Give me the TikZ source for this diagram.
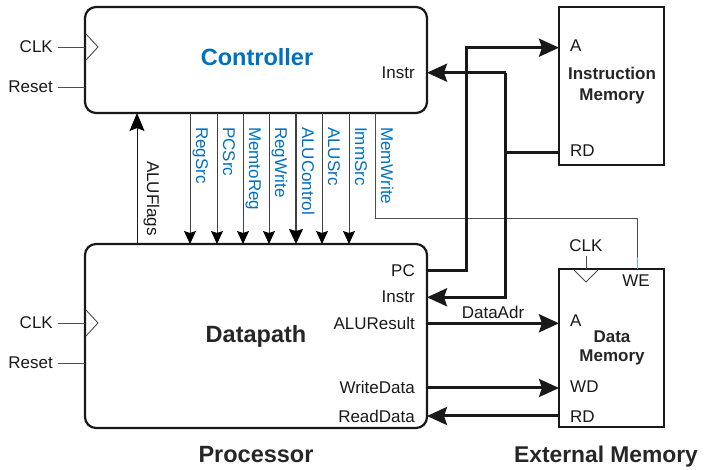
\documentclass[tikz,border=0pt]{standalone}
\usepackage{fontspec}
\setmainfont{Liberation Sans}
\usetikzlibrary{arrows.meta}
\definecolor{ctrlblue}{RGB}{0,112,192}
\definecolor{weblue}{RGB}{100,180,230}
\begin{document}
\begin{tikzpicture}[x=1pt,y=-1pt,
  lbl/.style={font=\fontsize{17}{19}\selectfont, inner sep=0pt, text=black!90},
  blbl/.style={font=\fontsize{17}{19}\selectfont\bfseries, inner sep=0pt, text=black!85},
  title/.style={font=\fontsize{23.5}{26}\selectfont\bfseries, inner sep=0pt},
  sig/.style={font=\fontsize{17}{19}\selectfont, inner sep=0pt, text=ctrlblue, rotate=-90, anchor=base west},
  unit/.style={draw=black!90, line width=2.2pt, rounded corners=11pt},
  mem/.style={draw=black!90, line width=2.2pt},
  bus/.style={draw=black!90, line width=3pt},
  bigarrow/.style={-{Stealth[length=20pt,width=18pt,inset=3pt,color=black!90]}},
  ctl/.style={draw=black!75, line width=0.9pt, -{Stealth[length=13pt,width=12pt,inset=2pt,color=black]}},
  thin/.style={draw=black!70, line width=0.9pt},
  clkmark/.style={draw=black!70, line width=0.9pt}]
\useasboundingbox (0,0) rectangle (710,470);

% blocks
\draw[unit] (85,7) rectangle (427,113);
\draw[unit] (85,244) rectangle (427,428);
\draw[mem] (559,7) rectangle (664,165);
\draw[mem] (559,269) rectangle (664,427);

% titles
\node[title, text=ctrlblue, anchor=base] (ctrl) at (257,66) {Controller};
\node[title, text=black!85, anchor=base] (dp) at (256,343) {Datapath};
\node[title, text=black!85, anchor=base] (proc) at (256,462) {Processor};
\node[title, text=black!85, anchor=base, font=\fontsize{22.8}{26}\selectfont\bfseries] (ext) at (606,462) {External Memory};
\node[blbl, anchor=base] (im1) at (612,80) {Instruction};
\node[blbl, anchor=base] (im2) at (612,101) {Memory};
\node[blbl, anchor=base] (dm1) at (612,343) {Data};
\node[blbl, anchor=base] (dm2) at (612,362) {Memory};

% left inputs
\node[lbl, anchor=base east] (clk1) at (53,53) {CLK};
\node[lbl, anchor=base east] (rst1) at (53,93) {Reset};
\node[lbl, anchor=base east] (clk2) at (53,329) {CLK};
\node[lbl, anchor=base east] (rst2) at (53,369) {Reset};
\coordinate (c1) at (85,47); \coordinate (r1) at (85,87);
\coordinate (c2) at (85,323); \coordinate (r2) at (85,363);
\draw[thin] (clk1.base east) ++(5,-6) -- (c1);
\draw[thin] (rst1.base east) ++(5,-6) -- (r1);
\draw[thin] (clk2.base east) ++(5,-6) -- (c2);
\draw[thin] (rst2.base east) ++(5,-6) -- (r2);
\draw[clkmark] (86,34) -- (98,47) -- (86,60);
\draw[clkmark] (86,310) -- (98,323) -- (86,336);

% port labels
\node[lbl, anchor=base east] (cinstr) at (415,79) {Instr};
\node[lbl, anchor=base east] (pc) at (415,277) {PC};
\node[lbl, anchor=base east] (dinstr) at (415,303) {Instr};
\node[lbl, anchor=base east] (alur) at (415,329.5) {ALUResult};
\node[lbl, anchor=base east] (wd) at (415,394) {WriteData};
\node[lbl, anchor=base east] (rd) at (415,422) {ReadData};
\node[lbl, anchor=base west] (ia) at (570,52) {A};
\node[lbl, anchor=base west] (ird) at (570,157) {RD};
\node[lbl, anchor=base west] (da) at (570,327) {A};
\node[lbl, anchor=base west] (dwd) at (570,393) {WD};
\node[lbl, anchor=base west] (drd) at (570,422) {RD};
\node[lbl, anchor=base] (we) at (636,287) {WE};
\node[lbl, anchor=base] (dclk) at (586,252) {CLK};
\node[lbl, anchor=base] (dadr) at (493,319) {DataAdr};

% data memory clock
\draw[clkmark] (dclk.base) ++(0,4) -- (586,269);
\draw[clkmark] (574,270) -- (586,282) -- (598,270);

% control signals
\foreach \x/\name in {190/RegSrc,217/PCSrc,243/MemtoReg,269/RegWrite,322/ALUSrc,349/ImmSrc}{
  \draw[ctl] (\x,113) -- (\x,244);
  \node[sig] at (\x+6,127) {\name};
}
\draw[ctl, line width=1.3pt, -{Stealth[length=15pt,width=14pt,inset=2pt,color=black]}] (296,113) -- (296,244);
\node[sig] (aluc) at (302,127) {ALUControl};
\node[sig] (memw) at (381,127) {MemWrite};
\draw[thin] (375,113) -- (375,218.3) -- (637.7,218.3) -- (637.7,257);
\draw[draw=weblue, line width=0.9pt] (637.7,257) -- (637.7,269);

% ALUFlags
\draw[draw=black!90, line width=1pt, -{Stealth[length=18pt,width=15pt,inset=3pt,color=black]}] (137,244) -- (137,113);
\node[lbl, rotate=-90, anchor=base west] (aluf) at (147,161) {ALUFlags};

% buses
\draw[bus, bigarrow] (427,271) -- (466.7,271) -- (466.7,47.7) -- (559,47.7);
\draw[bus] (559,152.3) -- (505.7,152.3);
\draw[bus, bigarrow] (505.7,72.7) -- (427,72.7);
\draw[bus, bigarrow] (505.7,72.7) -- (505.7,297.3) -- (427,297.3);
\draw[bus, bigarrow] (427,323.3) -- (559,323.3);
\draw[bus, bigarrow] (427,388) -- (559,388);
\draw[bus, bigarrow] (559,416) -- (427,416);
\end{tikzpicture}
\end{document}
